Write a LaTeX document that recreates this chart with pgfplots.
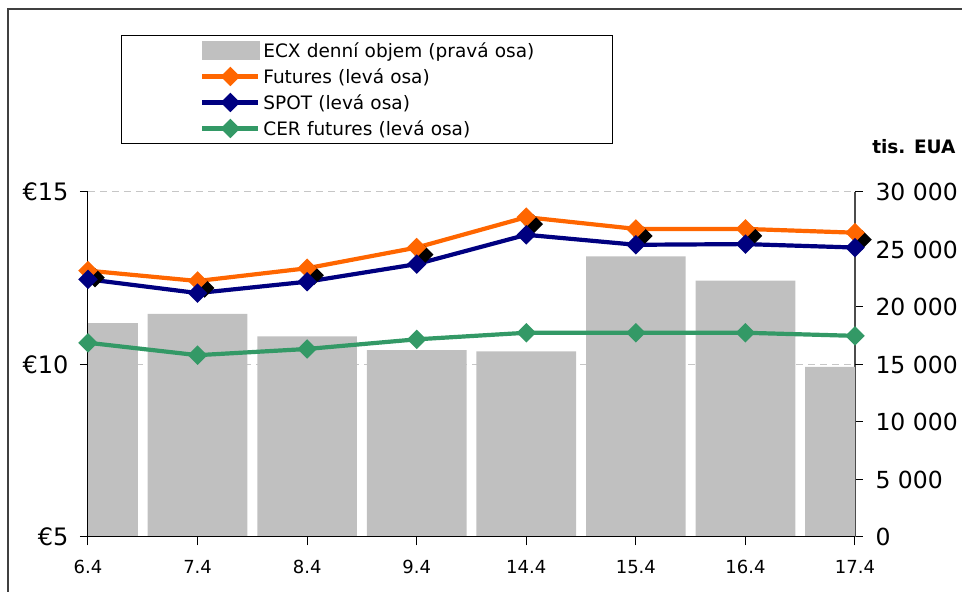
\documentclass[border=0pt]{standalone}
\usepackage{fontspec}
\setmainfont{DejaVu Sans}
\usepackage{pgfplots}
\pgfplotsset{compat=1.18}

\definecolor{barfill}{HTML}{C0C0C0}
\definecolor{futcol}{HTML}{FF6600}
\definecolor{spotcol}{HTML}{000080}
\definecolor{cercol}{HTML}{339966}

% den, futures, spot, cer, objem (tis. EUA)
\pgfplotstableread{
x fut  spot  cer   vol
0 12.72 12.47 10.63 18600
1 12.42 12.07 10.27 19400
2 12.79 12.40 10.45 17450
3 13.39 12.91 10.73 16250
4 14.27 13.76 10.92 16150
5 13.93 13.47 10.92 24400
6 13.93 13.49 10.92 22300
7 13.82 13.39 10.83 14800
}\data

\pgfplotsset{
  common/.style={
    scale only axis,
    width=767pt, height=345pt,
    xmin=0, xmax=7,
  },
}

\begin{document}
\begin{tikzpicture}
% category axis ticks, drawn first so that the upper halves sit behind the bars
\begin{axis}[common, name=bars,
    ymin=0, ymax=1,
    axis x line*=bottom, axis y line=none,
    x axis line style={-, black, line width=1pt},
    tick style={black, line width=1pt},
    tick align=center,
    xtick=\empty,
    minor xtick={0.5,1.5,...,6.5}, minor tick length=8pt,
    extra x ticks={0,1,...,7}, extra x tick labels={},
    extra x tick style={tick align=center, major tick length=16pt},
  ]
\end{axis}

% bars, right axis
\begin{axis}[common,
    ymin=0, ymax=30000, scaled y ticks=false,
    axis x line=none, axis y line*=right,
    tick align=outside, major tick length=8pt,
    y axis line style={-, black!70, line width=1.3pt},
    tick style={black, line width=1pt},
    ytick={0,5000,...,30000},
    yticklabels={0,5 000,10 000,15 000,20 000,25 000,30 000},
    y tick label style={font=\fontsize{23.5}{26}\selectfont, xshift=9pt},
    extra y ticks={15000,30000}, extra y tick labels={},
    extra y tick style={grid=major},
    major grid style={gray!45, line width=1pt, dash pattern=on 7pt off 5pt},
  ]
  \addplot[ybar, bar width=0.91, fill=barfill, draw=none] table[x=x, y=vol] {\data};
\end{axis}

% lines, left axis, category labels
\begin{axis}[common,
    ymin=5, ymax=15, clip=false,
    axis x line*=bottom, axis y line*=left,
    tick align=outside, major tick length=8pt,
    x axis line style={-, black, line width=1pt},
    y axis line style={-, black, line width=1pt},
    tick style={black, line width=1pt},
    xtick={0,...,7},
    xticklabels={6.4,7.4,8.4,9.4,14.4,15.4,16.4,17.4},
    x tick label style={font=\fontsize{18}{20}\selectfont, yshift=-12pt},
    ytick={5,10,15}, yticklabels={€5,€10,€15},
    y tick label style={font=\fontsize{24}{26}\selectfont, xshift=-8pt},
    every axis plot/.append style={line width=4.2pt,
      mark=square*, mark size=4.8pt, mark options={rotate=45, solid}},
    legend image code/.code={
      \path[draw=none, fill=none] (-78pt,-13pt) rectangle (61pt,13pt);
      \draw[mark repeat=2, mark phase=2, #1]
        plot coordinates {(0pt,0pt) (28pt,0pt) (56pt,0pt)};
    },
    legend cell align=left,
    legend style={at={(0.043,1.455)}, anchor=north west,
      draw=black, line width=0.8pt, inner xsep=3pt, inner ysep=2pt,
      font=\fontsize{18.5}{21}\selectfont,
      nodes={inner sep=0pt, text width=346pt}},
  ]
  \addlegendimage{legend image code/.code={
      \path[draw=none, fill=none] (-78pt,-13pt) rectangle (61pt,13pt);
      \fill[barfill] (2pt,-7pt) rectangle (56pt,7pt);}}
  \addplot[forget plot, only marks, black, xshift=7pt, yshift=-7pt]
    table[x=x, y=fut] {\data};
  \addplot[futcol] table[x=x, y=fut] {\data};
  \addplot[spotcol] table[x=x, y=spot] {\data};
  \addplot[cercol] table[x=x, y=cer] {\data};
  \legend{ECX denní objem (pravá osa), Futures (levá osa),
          SPOT (levá osa), CER futures (levá osa)}
\end{axis}

\node[anchor=east, font=\bfseries\fontsize{18.5}{20}\selectfont]
  at ([shift={(871pt,390pt)}]bars.south west) {tis. EUA};
\draw[line width=2pt, black!75]
  ([shift={(-80pt,-65pt)}]bars.south west) -- ([shift={(-80pt,528pt)}]bars.south west)
  -- ([shift={(885pt,528pt)}]bars.south west);
\pgfresetboundingbox
\path[use as bounding box] ([shift={(-88pt,-55pt)}]bars.south west)
  rectangle ([shift={(874pt,537pt)}]bars.south west);
\end{tikzpicture}
\end{document}
